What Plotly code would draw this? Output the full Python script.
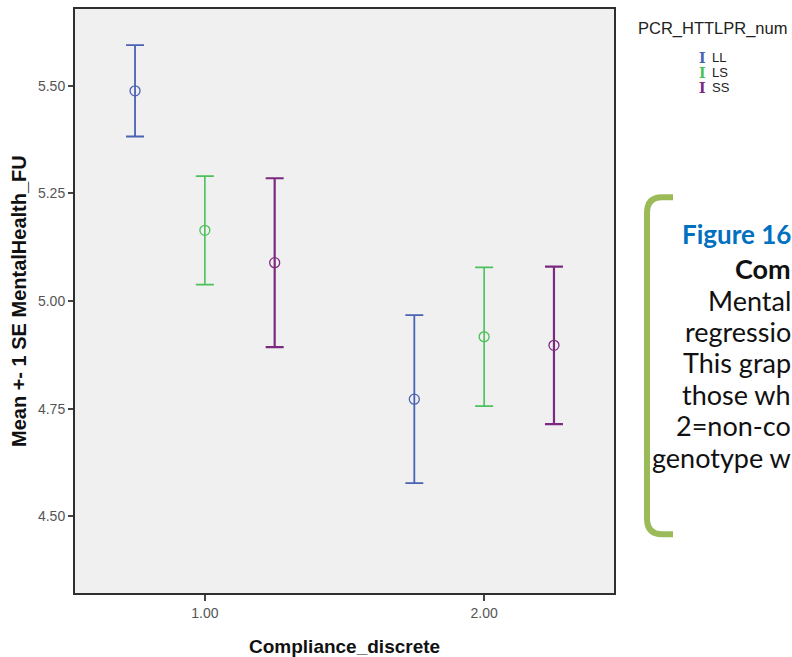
import plotly.graph_objects as go

# Mean +- 1 SE of MentalHealth_FU by compliance group and genotype
compliance = [1.0, 2.0]
compliance_labels = ["1.00", "2.00"]
genotypes = ["LL", "LS", "SS"]
mean_ll = [5.488, 4.772]
se_ll = [0.106, 0.195]
mean_ls = [5.164, 4.917]
se_ls = [0.126, 0.161]
mean_ss = [5.089, 4.897]
se_ss = [0.196, 0.183]
y_ticks = [4.50, 4.75, 5.00, 5.25, 5.50]

# Caption lines beside the chart (as far as the page shows them)
caption_lines = ["Figure 16", "Com", "Mental", "regressio", "This grap",
                 "those wh", "2=non-co", "genotype w"]

series = {"LL": (mean_ll, se_ll), "LS": (mean_ls, se_ls), "SS": (mean_ss, se_ss)}
colors = {"LL": "#4a62b4", "LS": "#4cc05a", "SS": "#7c2a80"}
bar_width = {"LL": 1.8, "LS": 1.6, "SS": 2.2}
dodge = {"LL": -0.25, "LS": 0.0, "SS": 0.25}

W, H = 792, 657
L, R, T, B = 75, 614, 7, 593

fig = go.Figure()
for g in genotypes:
    means, ses = series[g]
    fig.add_trace(go.Scatter(
        x=[c + dodge[g] for c in compliance],
        y=means,
        mode="markers",
        name=g,
        marker=dict(symbol="circle-open", size=10, color=colors[g],
                    line=dict(width=1.3, color=colors[g])),
        error_y=dict(type="data", array=ses, visible=True, color=colors[g],
                     thickness=bar_width[g], width=9),
        showlegend=False,
    ))

axis_font = dict(family="Liberation Sans, Arial, sans-serif", size=14, color="#555")
fig.update_xaxes(range=[0.535, 2.465], tickvals=compliance, ticktext=compliance_labels,
                 showgrid=False, zeroline=False, ticks="outside", ticklen=6,
                 tickcolor="#444", tickwidth=1.5, tickfont=axis_font,
                 showline=True, mirror=True, linecolor="#2f2f2f", linewidth=2)
fig.update_yaxes(range=[4.322, 5.678], tickvals=y_ticks,
                 ticktext=[f"{v:.2f}" for v in y_ticks],
                 showgrid=False, zeroline=False, ticks="outside", ticklen=5,
                 tickcolor="#444", tickwidth=1.5, tickfont=axis_font,
                 showline=True, mirror=True, linecolor="#2f2f2f", linewidth=2)


def px(x):
    return (x - L) / (R - L)


def py(y):
    return (B - y) / (B - T)


ann = []
ann.append(dict(text="<b>Compliance_discrete</b>", xref="paper", yref="paper",
                x=0.5, y=py(647), xanchor="center", yanchor="middle",
                showarrow=False,
                font=dict(family="Liberation Sans, Arial, sans-serif", size=19, color="#111")))
ann.append(dict(text="<b>Mean +- 1 SE MentalHealth_FU</b>", xref="paper", yref="paper",
                x=px(19), y=0.5, xanchor="center", yanchor="middle", textangle=-90,
                showarrow=False,
                font=dict(family="Liberation Sans, Arial, sans-serif", size=20, color="#111")))

# Legend block
ann.append(dict(text="PCR_HTTLPR_num", xref="paper", yref="paper", x=px(636), y=py(27),
                xanchor="left", yanchor="middle", showarrow=False,
                font=dict(family="Liberation Sans, Arial, sans-serif", size=16.5, color="#222")))
for i, g in enumerate(genotypes):
    yy = py(56 + 15 * i)
    ann.append(dict(text="<b>I</b>", xref="paper", yref="paper", x=px(702), y=yy,
                    xanchor="center", yanchor="middle", showarrow=False,
                    font=dict(family="DejaVu Serif, serif", size=14, color=colors[g])))
    ann.append(dict(text=g, xref="paper", yref="paper", x=px(710), y=yy,
                    xanchor="left", yanchor="middle", showarrow=False,
                    font=dict(family="Liberation Sans, Arial, sans-serif", size=13, color="#222")))

# Caption panel: right-aligned against the page edge
caption_font = "Lato, Calibri, sans-serif"
caption_y = [233, 267, 299, 331, 362, 394, 425, 457]
for i, (text, y0) in enumerate(zip(caption_lines, caption_y)):
    if i == 0:
        txt, col, size = f"<b>{text}</b>", "#0070c0", 26
    elif i == 1:
        txt, col, size = f"<b>{text}</b>", "#111", 27
    else:
        txt, col, size = text, "#111", 27
    ann.append(dict(text=txt, xref="paper", yref="paper", x=px(793), y=py(y0),
                    xanchor="right", yanchor="middle", showarrow=False,
                    font=dict(family=caption_font, size=size, color=col)))

bracket = (f"M {px(673)},{py(196)} L {px(662)},{py(196)} "
           f"Q {px(647)},{py(196)} {px(647)},{py(212)} "
           f"L {px(647)},{py(518)} "
           f"Q {px(647)},{py(534)} {px(662)},{py(534)} "
           f"L {px(673)},{py(534)}")
shapes = [dict(type="path", path=bracket, xref="paper", yref="paper",
               line=dict(color="#9bbb59", width=6))]

fig.update_layout(
    width=W, height=H,
    margin=dict(l=L, r=W - R, t=T, b=H - B),
    paper_bgcolor="white", plot_bgcolor="#f0f0f0",
    annotations=ann, shapes=shapes,
)

fig.write_html("out.html")
